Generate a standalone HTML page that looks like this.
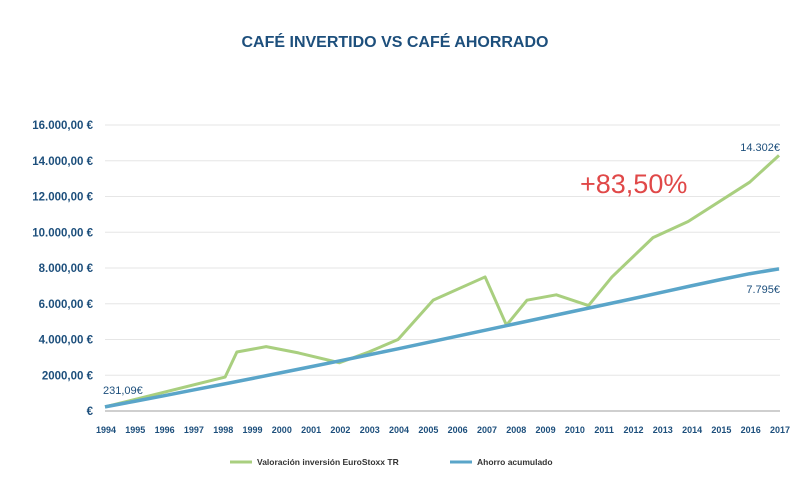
<!DOCTYPE html>
<html><head><meta charset="utf-8"><style>
body{margin:0;background:#fff;font-family:"Liberation Sans",sans-serif}
svg text{font-family:"Liberation Sans",sans-serif}
</style></head><body>
<svg width="810" height="480" xmlns="http://www.w3.org/2000/svg">
<rect width="810" height="480" fill="#fff"/>
<text x="395" y="47" text-anchor="middle" font-size="16" font-weight="bold" fill="#1d4f7c">CAFÉ INVERTIDO VS CAFÉ AHORRADO</text>
<g id="grid"></g><g id="yt"></g><g id="xt"></g><g id="lines"></g>
<text x="580" y="193" font-size="27" fill="#e04848">+83,50%</text>
<text x="103" y="394" font-size="11" fill="#1d4f7c">231,09€</text>
<text x="780" y="151" text-anchor="end" font-size="11" fill="#1d4f7c">14.302€</text>
<text x="780" y="293" text-anchor="end" font-size="11" fill="#1d4f7c">7.795€</text>
<g>
<line x1="230" y1="462" x2="252" y2="462" stroke="#a9cf7f" stroke-width="3"/>
<text x="257" y="465" font-size="8.5" font-weight="bold" fill="#333">Valoración inversión EuroStoxx TR</text>
<line x1="450" y1="462" x2="472" y2="462" stroke="#5aa5c9" stroke-width="3"/>
<text x="477" y="465" font-size="8.5" font-weight="bold" fill="#333">Ahorro acumulado</text>
</g>
</svg>
<script>
const years=[1994,1995,1996,1997,1998,1999,2000,2001,2002,2003,2004,2005,2006,2007,2008,2009,2010,2011,2012,2013,2014,2015,2016,2017];
const savings=[231,540,850,1170,1490,1810,2140,2470,2800,3140,3480,3830,4180,4530,4880,5230,5580,5930,6280,6640,7000,7350,7680,7950];
const invYears=[1994,1998.1,1998.5,1999.5,2000.6,2002,2003,2004,2005.2,2006.97,2007.7,2008.4,2009.4,2010.5,2011.3,2012.7,2013.9,2016,2017];
const invValues=[231,1900,3300,3600,3250,2700,3300,4000,6200,7500,4800,6200,6500,5900,7500,9700,10600,12800,14302];
const yTicks=[0,2000,4000,6000,8000,10000,12000,14000,16000];
const yTickLabels=["€","2000,00 €","4.000,00 €","6.000,00 €","8.000,00 €","10.000,00 €","12.000,00 €","14.000,00 €","16.000,00 €"];
const NS="http://www.w3.org/2000/svg";
const X=y=>105+(y-1994)*(674/23);
const Y=v=>411-v*(286/16000);
function mk(t,a,p){const e=document.createElementNS(NS,t);for(const k in a)e.setAttribute(k,a[k]);p.appendChild(e);return e;}
const grid=document.getElementById('grid'),yt=document.getElementById('yt'),xt=document.getElementById('xt'),lines=document.getElementById('lines');
yTicks.forEach((v,i)=>{
 const l=mk('line',{x1:105,x2:780,y1:Y(v),y2:Y(v),stroke:i==0?'#cfcfcf':'#e6e6e6','stroke-width':i==0?2:1},grid);
 
 
 const t=mk('text',{x:93,y:Y(v)+4,'text-anchor':'end','font-size':11.5,'font-weight':'bold',fill:'#1d4f7c'},yt);
 t.textContent=yTickLabels[i];
 
 
});
years.forEach(y=>{
 const t=mk('text',{x:X(y)+1,y:433,'text-anchor':'middle','font-size':9,'font-weight':'bold',fill:'#1d4f7c'},xt);
 t.textContent=y;
 
 
});
const inv=mk('polyline',{points:invYears.map((y,i)=>X(y)+','+Y(invValues[i])).join(' '),fill:'none',stroke:'#a9cf7f','stroke-width':3,'stroke-linejoin':'round'},lines);


const sav=mk('polyline',{points:years.map((y,i)=>X(y)+','+Y(savings[i])).join(' '),fill:'none',stroke:'#5aa5c9','stroke-width':3.5,'stroke-linejoin':'round'},lines);


</script>
</body></html>
